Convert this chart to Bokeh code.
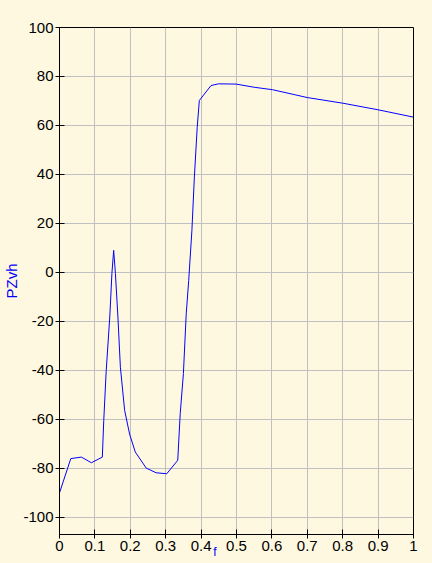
from bokeh.plotting import figure
from bokeh.models import FixedTicker, Range1d
from bokeh.embed import file_html
from bokeh.resources import INLINE

# data
f_vals = [0.0, 0.032, 0.062, 0.09, 0.121, 0.125, 0.132, 0.142, 0.148, 0.153,
          0.158, 0.165, 0.172, 0.184, 0.198, 0.214, 0.245, 0.273, 0.303, 0.334,
          0.341, 0.350, 0.358, 0.365, 0.374, 0.381, 0.389, 0.395, 0.428, 0.449,
          0.499, 0.55, 0.602, 0.7, 0.8, 0.9, 1.0]
pzvh = [-90.0, -76.0, -75.4, -77.7, -75.4, -60.4, -40.0, -18.2, -0.5, 9.0,
        -0.5, -18.2, -38.7, -56.3, -66.0, -73.3, -79.9, -81.8, -82.2, -76.7,
        -57.7, -41.3, -16.9, -3.3, 17.1, 38.9, 59.3, 70.2, 76.3, 77.0,
        76.9, 75.6, 74.6, 71.4, 69.1, 66.4, 63.4]
x_ticks = [0, 0.1, 0.2, 0.3, 0.4, 0.5, 0.6, 0.7, 0.8, 0.9, 1]
x_tick_labels = ["0", "0.1", "0.2", "0.3", "0.4", "0.5", "0.6", "0.7", "0.8", "0.9", "1"]
y_ticks = [-100, -80, -60, -40, -20, 0, 20, 40, 60, 80, 100]
y_tick_labels = ["-100", "-80", "-60", "-40", "-20", "0", "20", "40", "60", "80", "100"]
x_title = "f"
y_title = "PZvh"

BG = "#FFF8E1"
FONT = "Liberation Sans"

p = figure(width=432, height=563, output_backend="svg", toolbar_location=None,
           x_range=Range1d(0, 1), y_range=Range1d(-107, 100),
           min_border_left=58, min_border_right=19, min_border_top=27, min_border_bottom=29)
p.background_fill_color = BG
p.border_fill_color = BG
p.outline_line_color = "black"
p.outline_line_width = 1

p.line(f_vals, pzvh, line_color="#0000FF", line_width=1)

p.xaxis.ticker = FixedTicker(ticks=x_ticks)
p.xaxis.major_label_overrides = {t: l for t, l in zip(x_ticks, x_tick_labels)}
p.yaxis.ticker = FixedTicker(ticks=y_ticks)
p.yaxis.major_label_overrides = {t: l for t, l in zip(y_ticks, y_tick_labels)}

for ax in (p.xaxis, p.yaxis):
    ax.axis_line_color = "black"
    ax.major_tick_line_color = "black"
    ax.major_tick_in = 5
    ax.major_tick_out = 4
    ax.minor_tick_line_color = None
    ax.major_label_text_font = FONT
    ax.major_label_text_font_size = "15px"
    ax.major_label_text_color = "black"
    ax.major_label_standoff = 2
    ax.axis_label_text_font = FONT
    ax.axis_label_text_font_style = "normal"
    ax.axis_label_text_color = "#0000FF"
    ax.axis_label_text_font_size = "15px"
    ax.axis_label_standoff = 0

p.yaxis.axis_label = y_title
# x title sits just left of centre in the reference, below the tick labels
p.xaxis.axis_label = x_title + "\u00a0" * 13
p.xaxis.axis_label_text_font_size = "12px"
p.xaxis.axis_label_standoff = -9

p.xgrid.ticker = FixedTicker(ticks=x_ticks)
p.ygrid.ticker = FixedTicker(ticks=y_ticks)
p.grid.grid_line_color = "#C0C0C0"
p.grid.grid_line_width = 1

html = file_html(p, INLINE)
html = html.replace("</head>", "<style>html,body{background:#FFF8E1;}</style></head>", 1)
open("out.html", "w").write(html)
